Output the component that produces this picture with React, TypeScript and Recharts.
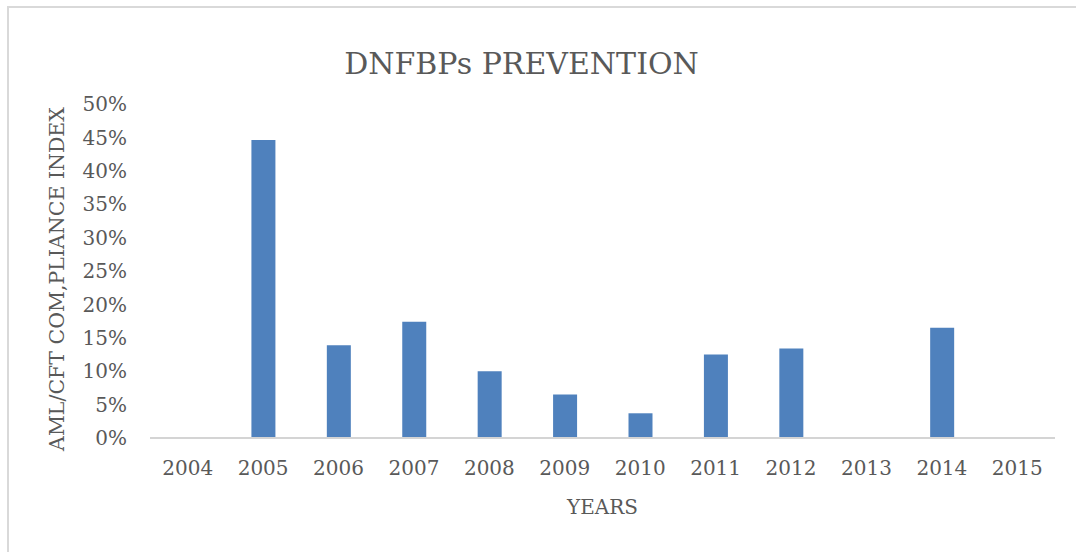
import React from "react";
import { BarChart, Bar, XAxis, YAxis, Label } from "recharts";

const years = ["2004", "2005", "2006", "2007", "2008", "2009", "2010", "2011", "2012", "2013", "2014", "2015"];
const compliance = [0, 44.6, 13.9, 17.4, 10.0, 6.5, 3.7, 12.5, 13.4, 0, 16.5, 0];
const yTicks = [0, 5, 10, 15, 20, 25, 30, 35, 40, 45, 50];

const rows = years.map((year, i) => ({ year, value: compliance[i] }));

const FONT = "'DejaVu Serif', serif";
const TEXT = "#595959";

const YLabel = ({ viewBox }: any) => {
  const cx = viewBox.x + 57;
  const cy = viewBox.y + viewBox.height / 2 + 8;
  return (
    <text
      x={cx}
      y={cy}
      transform={`rotate(-90, ${cx}, ${cy})`}
      textAnchor="middle"
      dominantBaseline="central"
      fill={TEXT}
      fontSize={20.5}
      fontFamily={FONT}
    >
      AML/CFT COM,PLIANCE INDEX
    </text>
  );
};

export default function App() {
  return (
    <div style={{ position: "absolute", left: 0, top: 0, width: 1076, height: 552, background: "#fff", overflow: "hidden" }}>
      <div
        style={{
          position: "absolute",
          left: 7,
          top: 6,
          width: 1100,
          height: 600,
          borderTop: "2px solid #d9d9d9",
          borderLeft: "2px solid #d9d9d9",
        }}
      />
      <div
        style={{
          position: "absolute",
          left: 0,
          top: 49,
          width: 1043,
          textAlign: "center",
          fontFamily: FONT,
          fontSize: 30,
          lineHeight: "30px",
          color: TEXT,
        }}
      >
        DNFBPs PREVENTION
      </div>
      <div style={{ position: "absolute", left: 0, top: 0 }}>
        <BarChart width={1076} height={552} data={rows} margin={{ top: 104, right: 21, left: 0, bottom: 60 }}>
          <XAxis
            dataKey="year"
            interval={0}
            height={54}
            tickLine={false}
            tickSize={0}
            tickMargin={23}
            axisLine={{ stroke: "#d4d4d4", strokeWidth: 2 }}
            tick={{ fill: TEXT, fontSize: 20, fontFamily: FONT }}
          >
            <Label value="YEARS" position="bottom" offset={8} fill={TEXT} fontSize={20} fontFamily={FONT} />
          </XAxis>
          <YAxis
            width={150}
            domain={[0, 50]}
            ticks={yTicks}
            interval={0}
            axisLine={false}
            tickLine={false}
            tickSize={0}
            tickMargin={23}
            tickFormatter={(v: number) => `${v}%`}
            tick={{ fill: TEXT, fontSize: 20, fontFamily: FONT }}
          >
            <Label content={YLabel} />
          </YAxis>
          <Bar dataKey="value" fill="#4f81bd" barSize={24} isAnimationActive={false} />
        </BarChart>
      </div>
    </div>
  );
}
